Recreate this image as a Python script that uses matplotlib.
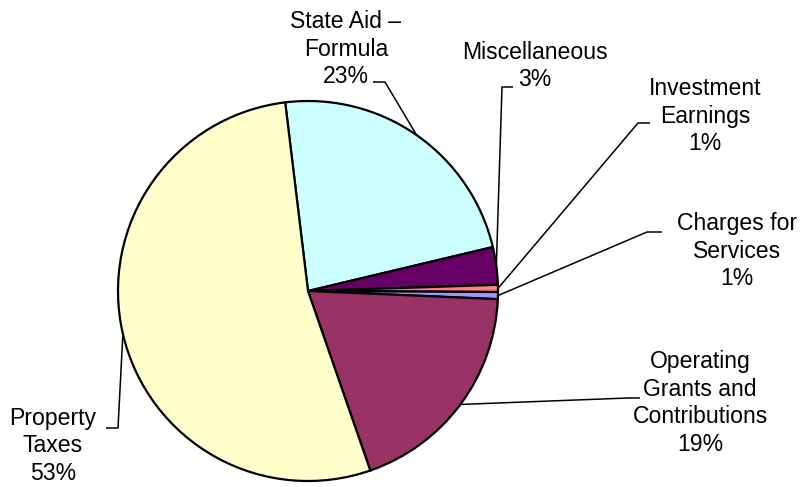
import numpy as np
import matplotlib
matplotlib.use("Agg")
import matplotlib.pyplot as plt

plt.rcParams['font.family'] = ['Liberation Sans', 'DejaVu Sans']

# revenue shares, clockwise from the top
categories = ["State Aid \u2013\nFormula", "Miscellaneous", "Investment\nEarnings",
              "Charges for\nServices", "Operating\nGrants and\nContributions",
              "Property\nTaxes"]
shares = [23.2, 3.2, 0.6, 0.6, 19.0, 53.4]
colors = ["#CCFFFF", "#660066", "#FF8080", "#9999FF", "#993366", "#FFFFCC"]

# layout in pixels (y measured from the top of the image)
W, H = 802, 487
CX, CY, R = 308, 291, 190
text_pos = [(346, 49), (535, 66), (705, 116), (737, 251), (700, 403), (53, 446)]
# leader lines: (end next to the text, elbow)
leaders = [((373, 82), (385, 82)),
           ((513, 87), (502, 87)),
           ((650, 123), (638, 123)),
           ((662, 232), (647, 232)),
           ((640, 398), (628, 398)),
           ((106, 428), (118, 428))]

fig = plt.figure(figsize=(W / 100, H / 100), dpi=100)
ax = fig.add_axes([0, 0, 1, 1])

wedges, _ = ax.pie(shares, colors=colors, startangle=96.9, counterclock=False,
                   radius=R, center=(CX, H - CY),
                   wedgeprops=dict(edgecolor="black", linewidth=1.6))

total = sum(shares)
for i, w in enumerate(wedges):
    mid = np.deg2rad((w.theta1 + w.theta2) / 2)
    px = CX + R * np.cos(mid)
    py = (H - CY) + R * np.sin(mid)
    p_end, p_elb = leaders[i]
    ax.plot([p_end[0], p_elb[0], px], [H - p_end[1], H - p_elb[1], py],
            color="black", linewidth=1.1, solid_capstyle="butt")
    pct = round(100 * shares[i] / total)
    tx, ty = text_pos[i]
    ax.text(tx, H - ty, f"{categories[i]}\n{pct}%", ha="center", va="center",
            multialignment="center", fontsize=16.6, linespacing=1.27)

ax.set_xlim(0, W)
ax.set_ylim(0, H)
ax.set_aspect("equal")
ax.axis("off")

fig.savefig("out.png", dpi=100)
